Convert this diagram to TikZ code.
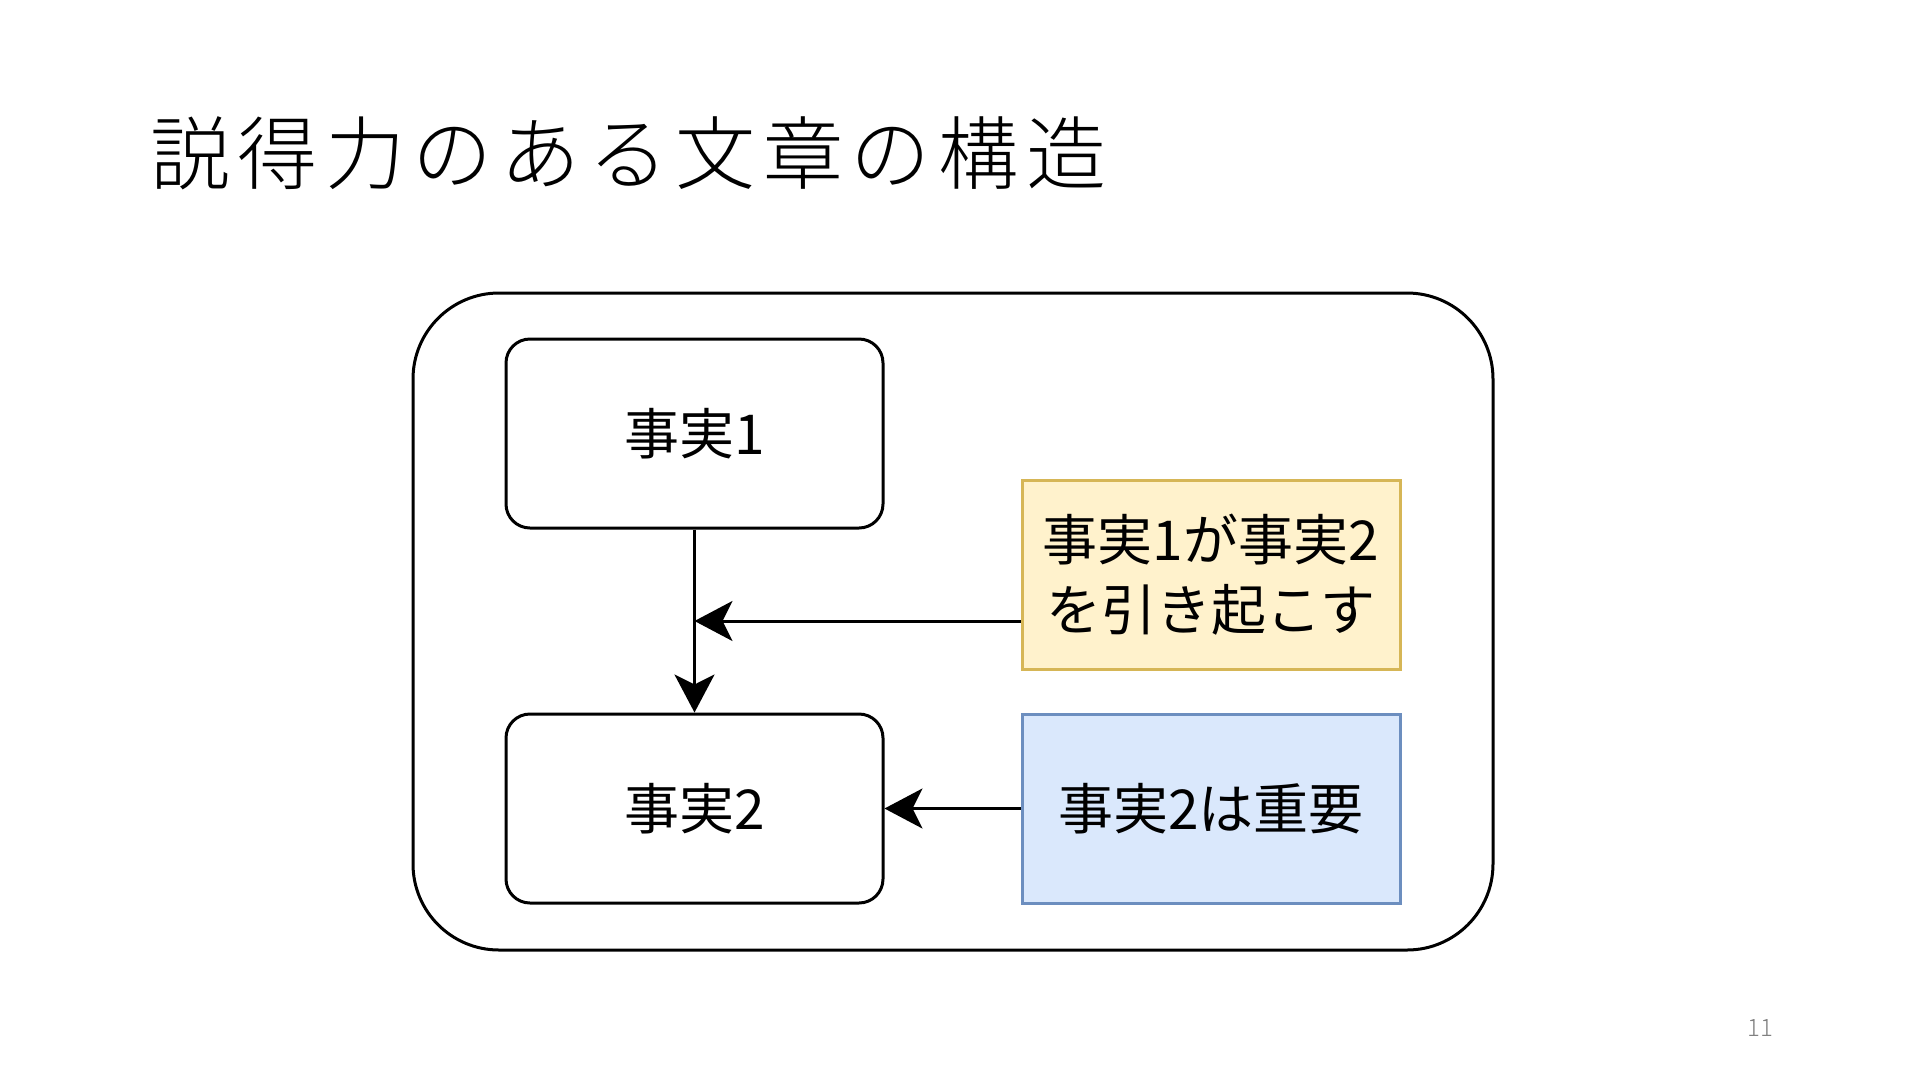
\documentclass[tikz,border=0pt]{standalone}
\usepackage{fontspec}
\usepackage{xcolor}
\usetikzlibrary{arrows.meta, positioning, calc}
\newfontfamily\jpfont{Noto Sans CJK JP}
\newfontfamily\jplight{Noto Sans CJK JP Light}
\definecolor{notefill}{HTML}{FFF2CC}
\definecolor{noteline}{HTML}{D6B656}
\definecolor{keyfill}{HTML}{DAE8FC}
\definecolor{keyline}{HTML}{6C8EBF}

\begin{document}
\begin{tikzpicture}[x=1pt, y=-1pt,
    factbox/.style={draw, line width=3pt, rounded corners=24pt, minimum width=377pt, minimum height=189pt, font=\jpfont\fontsize{55}{70}\selectfont, align=center},
    notebox/.style={factbox, rounded corners=0pt, minimum width=378pt},
    link/.style={line width=3pt, -{Stealth[length=38pt, width=40pt, inset=10pt]}}]
    \useasboundingbox (0,0) rectangle (1920,1080);
    \node[anchor=base west, inner sep=0pt, font=\jplight\fontsize{80}{96}\selectfont\addfontfeature{LetterSpace=9.5}] (title) at (150,183) {説得力のある文章の構造};
    \node[draw, line width=3pt, rounded corners=86pt, minimum width=1080pt, minimum height=657pt] (frame) at (953,621.5) {};
    \node[factbox] (fact1) at (694.5,433.5) {事実1};
    \node[factbox, below=183pt of fact1] (fact2) {事実2};
    \node[notebox, fill=keyfill, draw=keyline, right=136pt of fact2] (key) {事実2は重要};
    \node[notebox, fill=notefill, draw=noteline, above=42pt of key] (cause) {事実1が事実2\\を引き起こす};
    \coordinate (join) at ($(fact1.south)!0.5!(fact2.north)$);
    \draw[link] (fact1) -- (fact2);
    \draw[link] (join -| cause.west) -- (join);
    \draw[link] (key) -- (fact2);
    \node[text=gray, font=\jplight\fontsize{24}{28}\selectfont] (pagenum) at (1760,1028) {11};
\end{tikzpicture}
\end{document}
